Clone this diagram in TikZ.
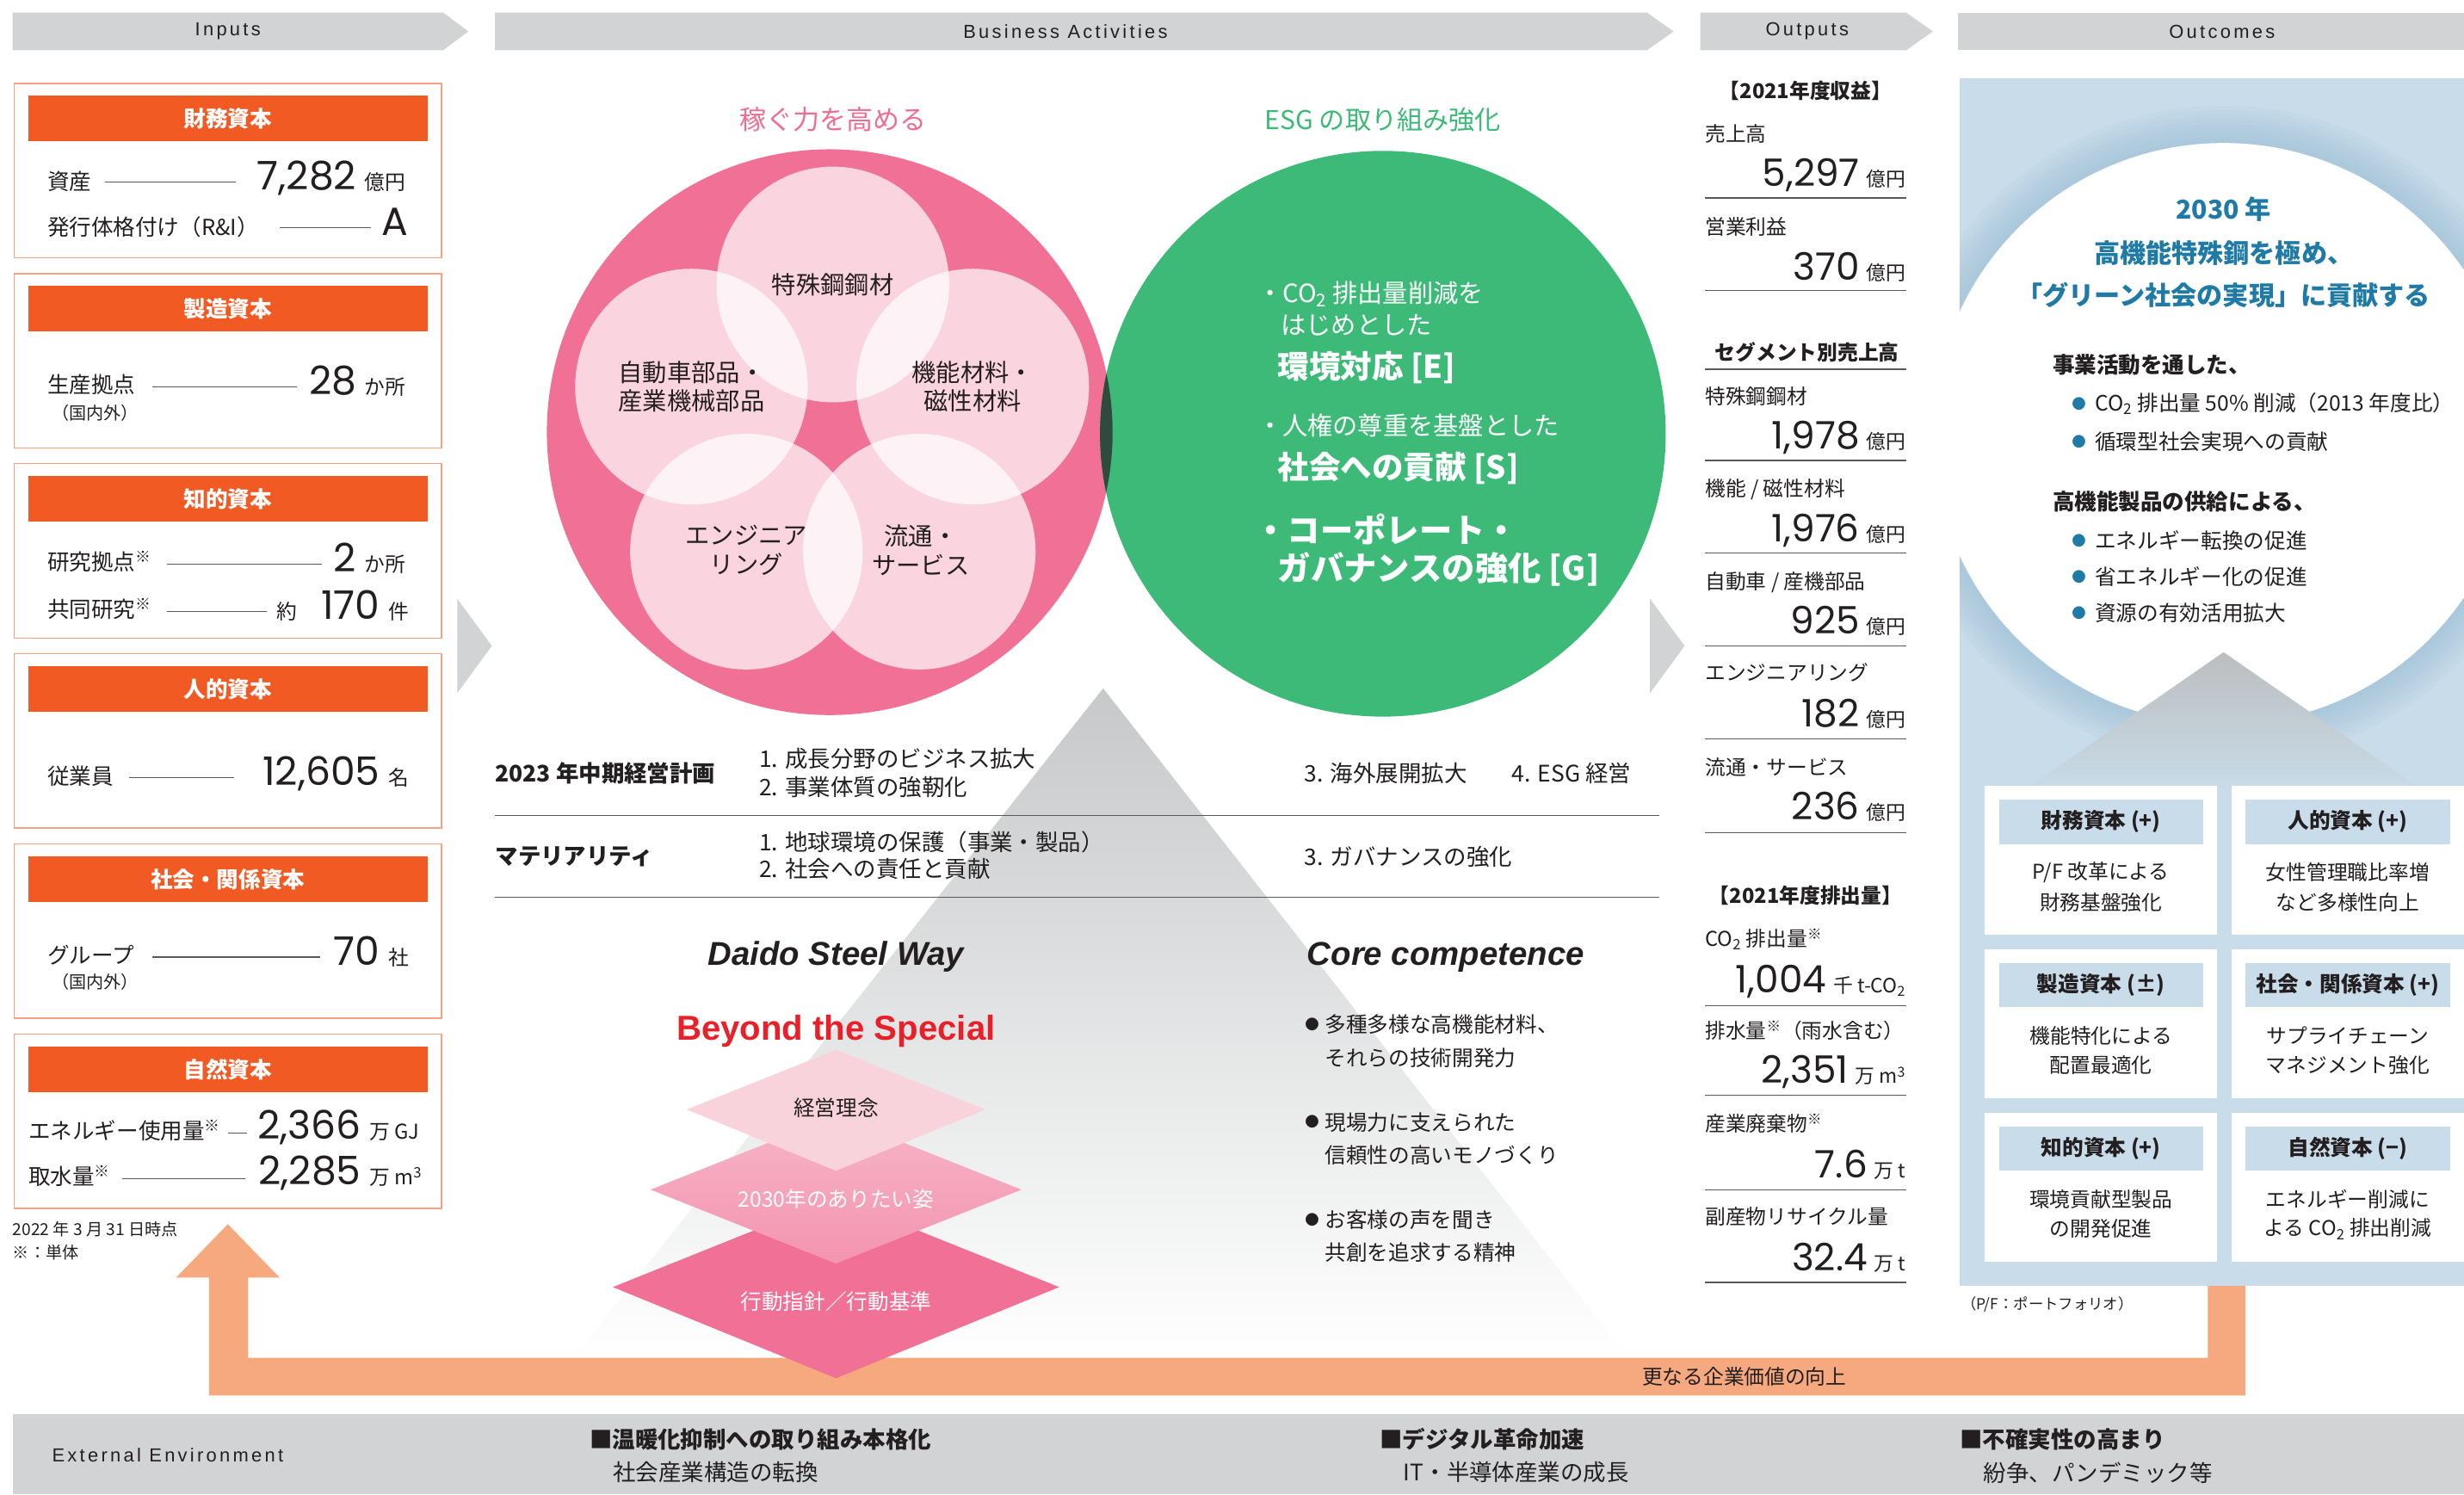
\documentclass[tikz,border=0pt]{standalone}
\usepackage{fontspec}
\setmainfont{Noto Sans CJK JP}
\newfontfamily\numf{Poppins}
\newfontfamily\latf{Liberation Sans}
\newfontfamily\hdrf[LetterSpace=15]{Liberation Sans}
\usetikzlibrary{calc}
\definecolor{hdr}{HTML}{D1D3D4}
\definecolor{inorange}{HTML}{F15A22}
\definecolor{inborder}{HTML}{F7A083}
\definecolor{pinkc}{HTML}{F07096}
\definecolor{pinkt}{HTML}{EE6D93}
\definecolor{greenc}{HTML}{3DBA78}
\definecolor{darkov}{HTML}{2E4B3E}
\definecolor{lightpink}{HTML}{F9D3DC}
\definecolor{retorange}{HTML}{F6A87E}
\definecolor{outblue}{HTML}{C9DCE9}
\definecolor{glowblue}{HTML}{8DB6D1}
\definecolor{teal}{HTML}{1F7BA6}
\definecolor{txt}{HTML}{231F20}
\definecolor{rulec}{HTML}{58595B}
\definecolor{redb}{HTML}{E8202A}
\newcommand\fsz[1]{\fontsize{#1}{#1}\selectfont}
\tikzset{
  every node/.style={inner sep=0pt, text=txt},
  hdrt/.style={font=\hdrf\fsz{12}},
  inhead/.style={font=\bfseries\fsz{14}, text=white},
  lb/.style={font=\fsz{14}, anchor=base west},
  lbs/.style={font=\fsz{11}, anchor=base west},
  bignum/.style={font=\numf\fsz{25}, anchor=base east},
  unit/.style={font=\fsz{13}, anchor=base west},
  rule/.style={draw=rulec, line width=0.7pt},
  ctext/.style={font=\fsz{15.5}, align=center},
  gtext/.style={font=\fsz{16}, text=white, anchor=west},
  gbold/.style={font=\bfseries\fsz{20}, text=white, anchor=west},
  ttext/.style={font=\fsz{14.5}, anchor=west},
  tbold/.style={font=\bfseries\fsz{14.5}, anchor=west},
  cc/.style={font=\fsz{13.5}, anchor=west},
  dtext/.style={font=\fsz{13.5}},
  olbl/.style={font=\fsz{13}, anchor=base west},
  onum/.style={font=\numf\fsz{24}, anchor=base east},
  ounit/.style={font=\fsz{12.5}, anchor=base east},
  obold/.style={font=\bfseries\fsz{13}},
  ctitle/.style={font=\bfseries\fsz{16.5}, text=teal},
  cbold/.style={font=\bfseries\fsz{14}, anchor=west},
  cbul/.style={font=\fsz{13.5}, anchor=west},
  bdot/.style={font=\fsz{9}, text=teal},
  ohead/.style={font=\bfseries\fsz{13.5}},
  obody/.style={font=\fsz{13}},
  etext/.style={font=\fsz{14.5}, anchor=west},
  ebold/.style={font=\bfseries\fsz{14.5}, anchor=west},
  foot/.style={font=\fsz{10.5}, anchor=west},
}
\newcommand\orow[7]{%
  \node[olbl] (#1l) at (1085,#3) {#2};
  \node[ounit] (#1u) at (1213,#6) {#5};
  \node[onum] (#1n) at ([xshift=-4pt]#1u.base west) {#4};
  \draw[rule] (1085,#7) -- (1213,#7);
}
\newcommand\obox[6]{%
  \fill[white] (#2,#3) rectangle ++(148,95);
  \fill[outblue] (#2+9,#3+9) rectangle ++(130,28);
  \node[ohead] (#1h) at (#2+74,#3+23) {#4};
  \node[obody] (#1a) at (#2+74,#3+55) {#5};
  \node[obody] (#1b) at (#2+74,#3+74) {#6};
}
\begin{document}
\begin{tikzpicture}[x=1pt,y=-1pt]
\useasboundingbox (0,0) rectangle (1568,951);
\fill[white] (0,0) rectangle (1568,951);

% ---------- header banners
\fill[hdr] (8,8) -- (282,8) -- (298,20) -- (282,32) -- (8,32) -- cycle;
\node[hdrt] (hin) at (145,20) {Inputs};
\fill[hdr] (315,8) -- (1048,8) -- (1065,20) -- (1048,32) -- (315,32) -- cycle;
\node[hdrt] (hba) at (678,20) {Business Activities};
\fill[hdr] (1082,8) -- (1213,8) -- (1230,20) -- (1213,32) -- (1082,32) -- cycle;
\node[hdrt] (hout) at (1150,20) {Outputs};
\fill[hdr] (1246,8) rectangle (1568,32);
\node[hdrt] (hoc) at (1414,20) {Outcomes};

% ---------- gray pyramid
\shade[top color=hdr!95!black, bottom color=white] (702,438) -- (1036,864) -- (365,864) -- cycle;

% ---------- return arrow
\fill[retorange] (145,779) -- (178,813) -- (158,813) -- (158,864) -- (1405,864) -- (1405,815)
  -- (1429,815) -- (1429,888) -- (133,888) -- (133,813) -- (112,813) -- cycle;
\node[font=\fsz{13}] (ret) at (1110,876) {更なる企業価値の向上};

% ---------- inputs
\foreach \i/\t in {0/財務資本,1/製造資本,2/知的資本,3/人的資本,4/社会・関係資本,5/自然資本}{
  \pgfmathsetmacro\yy{53+121*\i}
  \draw[inborder, line width=0.9pt] (9,\yy) rectangle (281,\yy+111);
  \fill[inorange] (18,\yy+8) rectangle (272,\yy+37);
  \node[inhead] (ih\i) at (145,\yy+22.5) {\t};
}
% box 1
\node[lb] (a1) at (30,121) {資産};
\draw[rule] (67,116) -- (150,116);
\node[bignum] (a1n) at (227,121) {7,282};
\node[unit] (a1u) at (232,121) {億円};
\node[lb] (a2) at (30,150) {発行体格付け（R\&I）};
\draw[rule] (178,145) -- (236,145);
\node[bignum] (a2n) at (260,150) {A};
% box 2
\node[lb] (b1) at (30,250) {生産拠点};
\node[lbs] (b1s) at (33,267) {（国内外）};
\draw[rule] (97,246) -- (189,246);
\node[bignum] (b1n) at (227,251) {28};
\node[unit] (b1u) at (232,251) {か所};
% box 3
\node[lb] (c1) at (30,363) {研究拠点\textsuperscript{※}};
\draw[rule] (106,359) -- (205,359);
\node[bignum] (c1n) at (227,364) {2};
\node[unit] (c1u) at (232,364) {か所};
\node[lb] (c2) at (30,393) {共同研究\textsuperscript{※}};
\draw[rule] (106,389) -- (170,389);
\node[unit] (c2y) at (176,394) {約};
\node[bignum] (c2n) at (242,394) {170};
\node[unit] (c2u) at (247,394) {件};
% box 4
\node[lb] (d1) at (30,499) {従業員};
\draw[rule] (82,495) -- (149,495);
\node[bignum] (d1n) at (242,500) {12,605};
\node[unit] (d1u) at (247,500) {名};
% box 5
\node[lb] (e1) at (30,613) {グループ};
\node[lbs] (e1s) at (33,629) {（国内外）};
\draw[rule] (97,609) -- (204,609);
\node[bignum] (e1n) at (242,614) {70};
\node[unit] (e1u) at (247,614) {社};
% box 6
\node[lb] (f1) at (18,725) {エネルギー使用量\textsuperscript{※}};
\draw[rule] (145,721) -- (157,721);
\node[bignum] (f1n) at (230,725) {2,366};
\node[unit] (f1u) at (235,725) {万 GJ};
\node[lb] (f2) at (18,754) {取水量\textsuperscript{※}};
\draw[rule] (78,750) -- (156,750);
\node[bignum] (f2n) at (230,754) {2,285};
\node[unit] (f2u) at (235,754) {万 m\textsuperscript{3}};
\node[foot] (fn1) at (8,782) {2022 年 3 月 31 日時点};
\node[foot] (fn2) at (8,797) {※：単体};

% ---------- chevrons
\fill[hdr] (291,381) -- (313,411) -- (291,441) -- cycle;
\fill[hdr] (1050,381) -- (1072,411) -- (1050,441) -- cycle;

% ---------- circles
\fill[pinkc] (528,275) circle[radius=180pt];
\fill[greenc] (880,276) circle[radius=180pt];
\begin{scope}
  \clip (528,275) circle[radius=180pt];
  \fill[darkov] (880,276) circle[radius=180pt];
\end{scope}
\foreach \cx/\cy in {530/181, 440/246, 619/246, 475/351, 585/351}
  \fill[white, opacity=0.7] (\cx,\cy) circle[x radius=74pt, y radius=75pt];
\node[font=\fsz{17}, text=pinkt] (ttl1) at (530,76) {稼ぐ力を高める};
\node[font=\fsz{16.5}, text=greenc] (ttl2) at (880,76) {ESG の取り組み強化};
\node[ctext] (p1) at (530,181) {特殊鋼鋼材};
\node[ctext] (p2) at (440,246) {自動車部品・\\[3pt]産業機械部品};
\node[ctext] (p3) at (619,246) {機能材料・\\[3pt]磁性材料};
\node[ctext] (p4) at (475,350) {エンジニア\\[3pt]リング};
\node[ctext] (p5) at (586,350) {流通・\\[3pt]サービス};
\node[gtext] (g1) at (800,187) {・CO\textsubscript{2} 排出量削減を};
\node[gtext] (g2) at (815,207) {はじめとした};
\node[gbold] (g3) at (813,234) {環境対応 [E]};
\node[gtext] (g4) at (800,271) {・人権の尊重を基盤とした};
\node[gbold] (g5) at (813,298) {社会への貢献 [S]};
\node[gbold, font=\bfseries\fsz{21}] (g6) at (798,337) {・コーポレート・};
\node[gbold, font=\bfseries\fsz{21}] (g7) at (813,362) {ガバナンスの強化 [G]};

% ---------- table
\node[tbold] (t1) at (315,492) {2023 年中期経営計画};
\node[ttext] (t2) at (483,483) {1. 成長分野のビジネス拡大};
\node[ttext] (t3) at (483,501) {2. 事業体質の強靭化};
\node[ttext] (t4) at (830,492) {3. 海外展開拡大};
\node[ttext] (t5) at (962,492) {4. ESG 経営};
\draw[rule] (315,519) -- (1056,519);
\node[tbold] (t6) at (315,545) {マテリアリティ};
\node[ttext] (t7) at (483,536) {1. 地球環境の保護（事業・製品）};
\node[ttext] (t8) at (483,553) {2. 社会への責任と貢献};
\node[ttext] (t9) at (830,545) {3. ガバナンスの強化};
\draw[rule] (315,571) -- (1056,571);

% ---------- Daido Steel Way / Core competence
\node[font=\latf\bfseries\itshape\fsz{21}] (dsw) at (532,609) {Daido Steel Way};
\node[font=\latf\bfseries\itshape\fsz{21}] (cc) at (920,609) {Core competence};
\node[font=\latf\bfseries\fsz{22}, text=redb] (bts) at (532,656) {Beyond the Special};
\fill[pinkc] (532,762) -- (674,819) -- (532,877) -- (390,819) -- cycle;
\shade[top color=lightpink!70!pinkc, bottom color=pinkc!75!white] (532,710) -- (650,757) -- (532,804) -- (414,757) -- cycle;
\fill[lightpink] (532,668) -- (627,706) -- (532,745) -- (437,706) -- cycle;
\node[dtext] (dm1) at (532,705) {経営理念};
\node[dtext, text=white] (dm2) at (532,763) {2030年のありたい姿};
\node[dtext, text=white] (dm3) at (532,828) {行動指針／行動基準};

\node[font=\fsz{9}] (cb1) at (835,652) {●};
\node[cc] (cc1) at (843,652) {多種多様な高機能材料、};
\node[cc] (cc2) at (843,673) {それらの技術開発力};
\node[font=\fsz{9}] (cb2) at (835,714) {●};
\node[cc] (cc3) at (843,714) {現場力に支えられた};
\node[cc] (cc4) at (843,735) {信頼性の高いモノづくり};
\node[font=\fsz{9}] (cb3) at (835,776) {●};
\node[cc] (cc5) at (843,776) {お客様の声を聞き};
\node[cc] (cc6) at (843,797) {共創を追求する精神};

% ---------- outputs
\node[obold] (oh1) at (1149,58) {【2021年度収益】};
\orow{r1}{売上高}{90}{5,297}{億円}{118.5}{126}
\orow{r2}{営業利益}{149}{370}{億円}{178.5}{185}
\node[obold] (oh2) at (1150,224) {セグメント別売上高};
\draw[rule] (1085,235) -- (1213,235);
\orow{r3}{特殊鋼鋼材}{257}{1,978}{億円}{285.5}{293}
\orow{r4}{機能 / 磁性材料}{316}{1,976}{億円}{344.5}{352}
\orow{r5}{自動車 / 産機部品}{375}{925}{億円}{403.5}{411}
\orow{r6}{エンジニアリング}{433}{182}{億円}{462.5}{470}
\orow{r7}{流通・サービス}{493}{236}{億円}{521.5}{530}
\node[obold] (oh3) at (1149,570) {【2021年度排出量】};
\orow{r8}{CO\textsubscript{2} 排出量\textsuperscript{※}}{602}{1,004}{千 t-CO\textsubscript{2}}{631.5}{640}
\orow{r9}{排水量\textsuperscript{※}（雨水含む）}{661}{2,351}{万 m\textsuperscript{3}}{689.5}{697}
\orow{r10}{産業廃棄物\textsuperscript{※}}{720}{7.6}{万 t}{749.5}{757}
\orow{r11}{副産物リサイクル量}{779}{32.4}{万 t}{808.5}{816}

% ---------- outcomes
\fill[outblue] (1247,50) rectangle (1568,818);
\begin{scope}
  \clip (1247,50) rectangle (1568,818);
  \foreach \rr in {209,206,...,186}
    \fill[glowblue, opacity=0.07] (1415,276) circle[radius=\rr pt];
\end{scope}
\fill[white] (1415,276) circle[radius=185pt];
\shade[top color=hdr!90!black, bottom color=outblue] (1415,415) -- (1545,505) -- (1285,505) -- cycle;
\node[ctitle] (oc1) at (1415,133) {2030 年};
\node[ctitle] (oc2) at (1415,161) {高機能特殊鋼を極め、};
\node[ctitle] (oc3) at (1415,188) {「グリーン社会の実現」に貢献する};
\node[cbold] (oc4) at (1306,232) {事業活動を通した、};
\node[bdot] (ob1) at (1323,257) {●};
\node[cbul] (oc5) at (1333,257) {CO\textsubscript{2} 排出量 50\% 削減（2013 年度比）};
\node[bdot] (ob2) at (1323,281) {●};
\node[cbul] (oc6) at (1333,281) {循環型社会実現への貢献};
\node[cbold] (oc7) at (1306,319) {高機能製品の供給による、};
\node[bdot] (ob3) at (1323,344) {●};
\node[cbul] (oc8) at (1333,344) {エネルギー転換の促進};
\node[bdot] (ob4) at (1323,367) {●};
\node[cbul] (oc9) at (1333,367) {省エネルギー化の促進};
\node[bdot] (ob5) at (1323,390) {●};
\node[cbul] (oc10) at (1333,390) {資源の有効活用拡大};

\obox{x1}{1263}{500}{財務資本 (+)}{P/F 改革による}{財務基盤強化}
\obox{x2}{1420}{500}{人的資本 (+)}{女性管理職比率増}{など多様性向上}
\obox{x3}{1263}{604}{製造資本 (±)}{機能特化による}{配置最適化}
\obox{x4}{1420}{604}{社会・関係資本 (+)}{サプライチェーン}{マネジメント強化}
\obox{x5}{1263}{708}{知的資本 (+)}{環境貢献型製品}{の開発促進}
\obox{x6}{1420}{708}{自然資本 (−)}{エネルギー削減に}{よる CO\textsubscript{2} 排出削減}
\node[foot, font=\fsz{9.5}] (pf) at (1248,830) {（P/F：ポートフォリオ）};

% ---------- external environment
\fill[hdr] (8,900) rectangle (1568,951);
\node[font=\hdrf\fsz{12}, anchor=west] (ee) at (33,926) {External Environment};
\node[ebold] (ee1) at (375,916) {■温暖化抑制への取り組み本格化};
\node[etext] (ee2) at (390,937) {社会産業構造の転換};
\node[ebold] (ee3) at (878,916) {■デジタル革命加速};
\node[etext] (ee4) at (893,937) {IT・半導体産業の成長};
\node[ebold] (ee5) at (1247,916) {■不確実性の高まり};
\node[etext] (ee6) at (1262,937) {紛争、パンデミック等};
\end{tikzpicture}
\end{document}
